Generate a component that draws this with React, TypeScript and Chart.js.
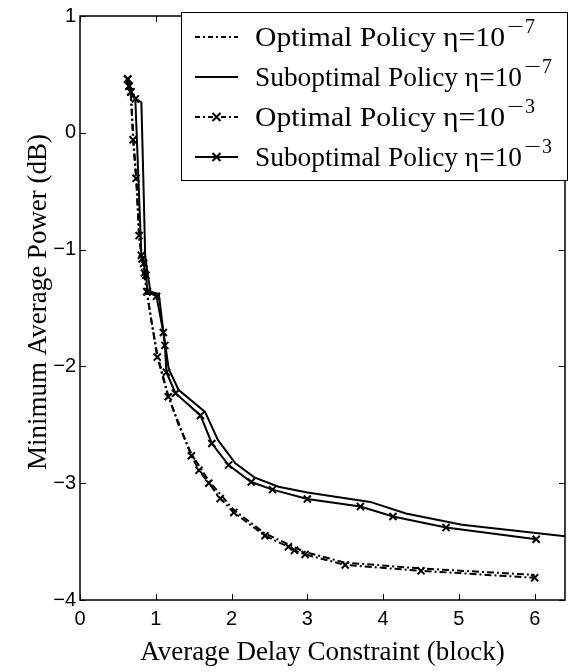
import React, { useEffect, useRef } from 'react';
import { Chart, registerables } from 'chart.js';

Chart.register(...registerables);

// ---- data ----
const opt7X = [0.63, 0.65, 0.67, 0.71, 0.75, 0.78, 0.83, 0.88, 0.94, 1.02, 1.16, 1.3, 1.47, 1.7, 2.03, 2.44, 2.97, 3.5, 4.5, 6.0];
const opt7Y = [0.46, 0.4, 0.33, -0.1, -0.45, -0.9, -1.12, -1.35, -1.6, -1.9, -2.24, -2.5, -2.75, -2.98, -3.23, -3.43, -3.59, -3.68, -3.73, -3.785];

const sub7X = [0.63, 0.65, 0.67, 0.74, 0.81, 0.84, 0.86, 0.89, 0.93, 1.04, 1.1, 1.17, 1.3, 1.65, 1.82, 2.05, 2.3, 2.62, 3.0, 3.83, 4.3, 5.04, 6.4];
const sub7Y = [0.46, 0.4, 0.35, 0.29, 0.26, -0.5, -1.05, -1.2, -1.36, -1.38, -1.7, -2.02, -2.2, -2.39, -2.63, -2.83, -2.95, -3.03, -3.08, -3.16, -3.26, -3.355, -3.455];

const opt3X = [0.63, 0.65, 0.67, 0.7, 0.74, 0.78, 0.82, 0.85, 0.88, 1.02, 1.165, 1.47, 1.57, 1.7, 1.85, 2.03, 2.44, 2.75, 2.83, 2.97, 3.5, 4.5, 6.0];
const opt3Y = [0.46, 0.4, 0.35, -0.06, -0.39, -0.88, -1.08, -1.2, -1.36, -1.92, -2.26, -2.765, -2.89, -3.0, -3.13, -3.25, -3.45, -3.545, -3.575, -3.61, -3.7, -3.75, -3.81];

const sub3X = [0.63, 0.645, 0.67, 0.73, 0.81, 0.84, 0.87, 0.89, 1.01, 1.1, 1.12, 1.14, 1.26, 1.59, 1.74, 1.96, 2.26, 2.54, 3.0, 3.7, 4.13, 4.83, 6.02];
const sub3Y = [0.46, 0.4, 0.35, 0.29, -1.05, -1.12, -1.22, -1.36, -1.4, -1.71, -1.82, -2.05, -2.23, -2.42, -2.66, -2.845, -2.99, -3.055, -3.135, -3.2, -3.285, -3.38, -3.48];

const xTicks = [0, 1, 2, 3, 4, 5, 6];
const yTicks = [-4, -3, -2, -1, 0, 1];

const legendLabels = ['Optimal Policy \u03b7=10', 'Suboptimal Policy \u03b7=10', 'Optimal Policy \u03b7=10', 'Suboptimal Policy \u03b7=10'];
const legendExponentSign = '\u2212';
const legendExponentDigits = ['7', '7', '3', '3'];

const xTitle = 'Average Delay Constraint (block)';
const yTitle = 'Minimum Average Power (dB)';

const DASHDOT = [7, 3, 2, 3];
const SERIF = '"Liberation Serif", "Times New Roman", serif';
const SANS = '"Liberation Sans", Arial, sans-serif';

const toPts = (xs: number[], ys: number[]) => xs.map((x, i) => ({ x, y: ys[i] }));

const seriesStyles = [
  { dash: DASHDOT, marker: false, textW: 250 },
  { dash: [] as number[], marker: false, textW: 267 },
  { dash: DASHDOT, marker: true, textW: 250 },
  { dash: [] as number[], marker: true, textW: 267 },
];

const framePlugin = {
  id: 'frame',
  afterDraw(chart: any) {
    const { ctx, chartArea } = chart;
    const { left, right, top, bottom } = chartArea;
    const xs = chart.scales.x;
    const ys = chart.scales.y;
    ctx.save();
    ctx.strokeStyle = '#000';
    ctx.lineWidth = 1.5;
    ctx.setLineDash([]);
    ctx.strokeRect(left, top, right - left, bottom - top);
    ctx.lineWidth = 1;
    const tl = 6;
    ctx.beginPath();
    xTicks.forEach((v) => {
      const px = Math.round(xs.getPixelForValue(v)) + 0.5;
      ctx.moveTo(px, bottom);
      ctx.lineTo(px, bottom - tl);
      ctx.moveTo(px, top);
      ctx.lineTo(px, top + tl);
    });
    yTicks.forEach((v) => {
      const py = Math.round(ys.getPixelForValue(v)) + 0.5;
      ctx.moveTo(left, py);
      ctx.lineTo(left + tl, py);
      ctx.moveTo(right, py);
      ctx.lineTo(right - tl, py);
    });
    ctx.stroke();

    // legend
    const bx = 181.5, by = 12.5, bw = 386, bh = 168;
    ctx.fillStyle = '#fff';
    ctx.fillRect(bx, by, bw, bh);
    ctx.strokeStyle = '#000';
    ctx.lineWidth = 1;
    ctx.strokeRect(bx, by, bw, bh);
    legendLabels.forEach((label, i) => {
      const cy = 37 + i * 40;
      const st = seriesStyles[i];
      ctx.lineWidth = 2;
      ctx.setLineDash(st.dash.length ? [5, 3, 2, 3] : []);
      ctx.beginPath();
      ctx.moveTo(195, cy);
      ctx.lineTo(238, cy);
      ctx.stroke();
      ctx.setLineDash([]);
      if (st.marker) {
        const mx = 216.5, r = 4;
        ctx.beginPath();
        ctx.moveTo(mx - r, cy - r);
        ctx.lineTo(mx + r, cy + r);
        ctx.moveTo(mx - r, cy + r);
        ctx.lineTo(mx + r, cy - r);
        ctx.stroke();
      }
      ctx.fillStyle = '#000';
      ctx.textAlign = 'left';
      ctx.textBaseline = 'alphabetic';
      ctx.font = `27px ${SERIF}`;
      const w = ctx.measureText(label).width;
      const sx = st.textW / w;
      ctx.save();
      ctx.translate(255, cy + 9);
      ctx.scale(sx, 1);
      ctx.fillText(label, 0, 0);
      ctx.restore();
      const ex = 255 + st.textW + 2;
      ctx.font = `20px ${SERIF}`;
      const mw = ctx.measureText(legendExponentSign).width;
      ctx.save();
      ctx.translate(ex, cy - 4);
      ctx.scale(17 / mw, 1);
      ctx.fillText(legendExponentSign, 0, 0);
      ctx.restore();
      ctx.fillText(legendExponentDigits[i], ex + 18, cy - 4);
    });

    // axis titles
    ctx.fillStyle = '#000';
    ctx.font = `27px ${SERIF}`;
    ctx.textAlign = 'center';
    ctx.textBaseline = 'alphabetic';
    ctx.fillText(xTitle, (left + right) / 2, 660);
    ctx.save();
    ctx.translate(46, (top + bottom) / 2 - 6);
    ctx.rotate(-Math.PI / 2);
    ctx.fillText(yTitle, 0, 0);
    ctx.restore();
    ctx.restore();
  },
};

export default function App() {
  const ref = useRef<HTMLCanvasElement | null>(null);
  useEffect(() => {
    if (!ref.current) return;
    const makeDs = (label: string, xs: number[], ys: number[], idx: number) => {
      const st = seriesStyles[idx];
      return {
        label,
        data: toPts(xs, ys),
        borderColor: '#000',
        backgroundColor: '#000',
        borderWidth: 2,
        borderDash: st.dash,
        tension: 0,
        fill: false,
        pointStyle: 'crossRot',
        pointRadius: st.marker ? 5 : 0,
        pointBorderWidth: 2,
        pointBorderColor: '#000',
        pointHoverRadius: st.marker ? 5 : 0,
      };
    };
    const chart = new Chart(ref.current, {
      type: 'line',
      data: {
        datasets: [
          makeDs(legendLabels[0] + legendExponentSign + legendExponentDigits[0], opt7X, opt7Y, 0),
          makeDs(legendLabels[1] + legendExponentSign + legendExponentDigits[1], sub7X, sub7Y, 1),
          makeDs(legendLabels[2] + legendExponentSign + legendExponentDigits[2], opt3X, opt3Y, 2),
          makeDs(legendLabels[3] + legendExponentSign + legendExponentDigits[3], sub3X, sub3Y, 3),
        ] as any,
      },
      options: {
        animation: false,
        responsive: false,
        maintainAspectRatio: false,
        layout: { padding: { top: 7, right: 2, left: 0, bottom: 0 } },
        plugins: { legend: { display: false }, tooltip: { enabled: false } },
        scales: {
          x: {
            type: 'linear',
            min: 0,
            max: 6.4,
            grid: { display: false, drawTicks: false },
            border: { display: false },
            afterBuildTicks: (scale: any) => {
              scale.ticks = xTicks.map((v) => ({ value: v }));
            },
            afterFit: (scale: any) => {
              scale.height = 72;
            },
            ticks: {
              color: '#000',
              font: { family: SANS, size: 20 },
              padding: 7,
              maxRotation: 0,
              callback: (v: any) => String(v),
            },
          },
          y: {
            type: 'linear',
            min: -4,
            max: 1,
            grid: { display: false, drawTicks: false },
            border: { display: false },
            afterBuildTicks: (scale: any) => {
              scale.ticks = yTicks.map((v) => ({ value: v }));
            },
            afterFit: (scale: any) => {
              scale.width = 80;
            },
            ticks: {
              color: '#000',
              font: { family: SANS, size: 20 },
              padding: 4,
              callback: (v: any) => String(v).replace('-', '\u2212'),
            },
          },
        },
      },
      plugins: [framePlugin],
    } as any);
    return () => chart.destroy();
  }, []);
  return (
    <div style={{ position: 'absolute', left: 0, top: 0, width: 572, height: 672, background: '#fff' }}>
      <canvas ref={ref} width={572} height={672} />
    </div>
  );
}
